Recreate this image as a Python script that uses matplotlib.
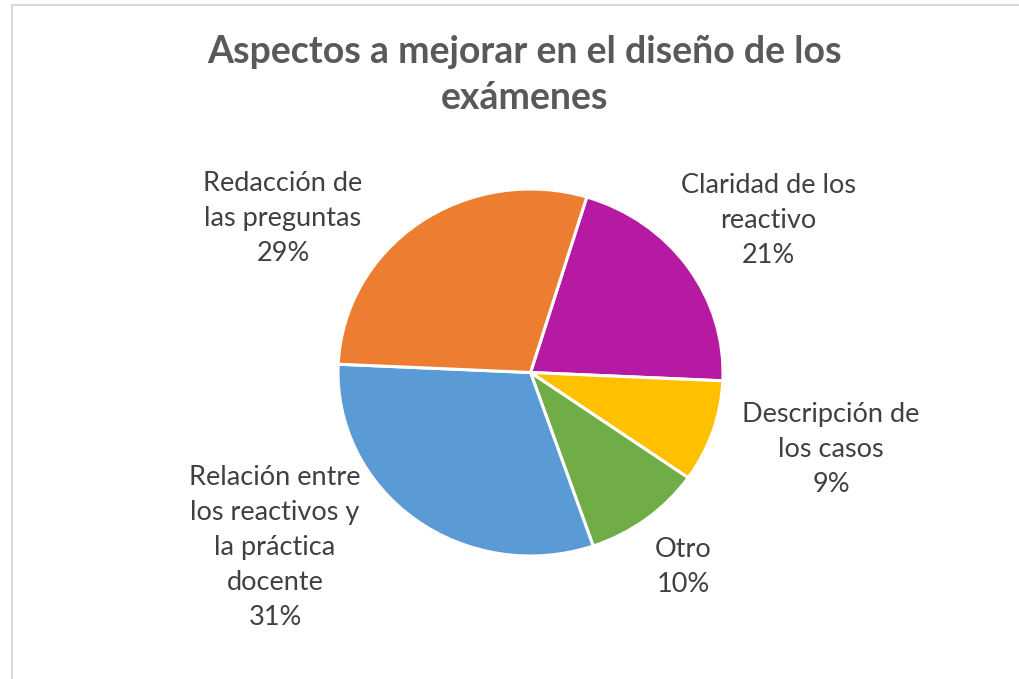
import matplotlib.pyplot as plt
from matplotlib.patches import Rectangle

# data (clockwise from the top)
categories = ['Claridad de los\nreactivo', 'Descripción de\nlos casos', 'Otro',
              'Relación entre\nlos reactivos y\nla práctica\ndocente', 'Redacción de\nlas preguntas']
percent = [21, 9, 10, 31, 29]
colors = ['#B61AA3', '#FFC000', '#70AD47', '#5B9BD5', '#ED7D31']

# label centres in data units (pie radius = 1)
label_pos = [(1.236, 0.831), (1.561, -0.422), (0.792, -1.060), (-1.327, -0.956), (-1.286, 0.837)]

W, H = 1019, 679
fig = plt.figure(figsize=(W / 100, H / 100), dpi=100)
ax = fig.add_axes([0, 0, 1, 1])

ax.pie(percent, colors=colors, startangle=73, counterclock=False,
       wedgeprops=dict(edgecolor='white', linewidth=2.2))

# pie is slightly wider than tall in the reference
cx, cy, rx, ry = 530.5, 372.5, 192.5, 183.5
ax.set_aspect('auto')
ax.set_xlim(-cx / rx, (W - cx) / rx)
ax.set_ylim((cy - H) / ry, cy / ry)
ax.axis('off')

for cat, p, (x, y) in zip(categories, percent, label_pos):
    ax.text(x, y, f'{cat}\n{p}%', ha='center', va='center', fontsize=19.5,
            family='Lato', color='#404040', linespacing=1.5)

fig.text(525 / W, 1 - 75 / H, 'Aspectos a mejorar en el diseño de los\nexámenes',
         ha='center', va='center', fontsize=27, fontweight='bold', family='Lato',
         color='#595959', linespacing=1.45)

# chart area border (cut off at right and bottom)
fig.patches.append(Rectangle((12 / W, -0.5), 2, 1.5 - 4.5 / H, transform=fig.transFigure,
                             fill=False, edgecolor='#D9D9D9', linewidth=1.5))

fig.savefig('out.png', dpi=100)
